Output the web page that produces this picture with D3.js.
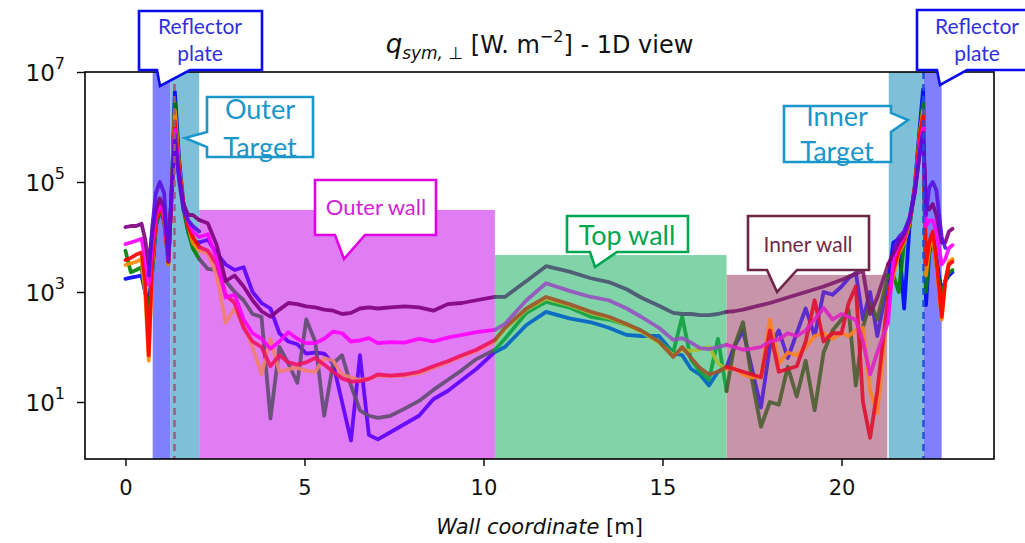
<!DOCTYPE html>
<html><head><meta charset="utf-8">
<script src="https://cdn.jsdelivr.net/npm/d3@7"></script>
<style>body{margin:0;background:#fff}svg{display:block}</style>
</head><body>
<svg id="chart" width="1025" height="543"></svg>
<script>
// ---------- DATA ----------
// Wall coordinate grid [m]
const wallCoord = [
  0, 0.15, 0.3, 0.45, 0.55, 0.65, 0.75, 0.85, 0.96, 1.08, 1.2, 1.3, 1.38, 1.5, 1.62, 1.75, 1.88, 2.06,
  2.3, 2.55, 2.8, 3.05, 3.3, 3.55, 3.8, 4.05, 4.3, 4.55, 4.8, 5.05, 5.3, 5.55, 5.8, 6.05, 6.3, 6.55, 6.8, 7.05, 7.4, 7.8, 8.2, 8.6, 9.0, 9.4, 9.8, 10.32,
  10.6, 11.2, 11.75, 12.4, 13.0, 13.5, 14.0, 14.4, 14.9, 15.3, 15.55, 15.8, 16.05, 16.3, 16.55, 16.79,
  17.0, 17.25, 17.5, 17.75, 18.0, 18.25, 18.5, 18.75, 19.0, 19.25, 19.5, 19.75, 20.0, 20.2, 20.4, 20.6, 20.8, 21.0, 21.3,
  21.45, 21.6, 21.75, 21.9, 22.05, 22.2, 22.28, 22.36, 22.45, 22.55, 22.65, 22.8, 22.9, 23.0, 23.1
];
// Segment limits along the wall [m]
const segmentLimits = [2.06, 10.32, 16.79, 21.3];

// log10 of q_sym,perp [W/m^2] for each case, on the wallCoord grid
const caseA_log10q = [
  4.18, 4.2, 4.2, 4.24, 3.96, 3.49, 4.1, 4.5, 4.7, 4.55, 3.7, 4.9, 5.75, 5.1, 4.6, 4.4, 4.4, 4.31,
  4.25, 3.85, 3.2, 3.3, 3.1, 2.85, 2.65, 2.55, 2.68, 2.8, 2.78, 2.74, 2.72, 2.68, 2.66, 2.6, 2.62, 2.7, 2.72, 2.7, 2.72, 2.74, 2.72, 2.66, 2.78, 2.8, 2.85, 2.91,
  2.91, 3.2, 3.47, 3.37, 3.25, 3.18, 3.05, 2.9, 2.75, 2.62, 2.6, 2.6, 2.58, 2.58, 2.6, 2.64,
  2.65, 2.68, 2.72, 2.76, 2.8, 2.85, 2.9, 2.95, 3.0, 3.05, 3.1, 3.16, 3.22, 3.28, 3.33, 3.38, 2.6, 2.9, 3.5,
  3.7, 3.9, 4.05, 4.3, 4.8, 5.6, 5.9, 4.6, 4.5, 4.6, 4.4, 3.9, 3.9, 4.1, 4.15
];
const caseB_log10q = [
  3.87, 3.9, 3.93, 3.97, 3.6, 3.13, 3.9, 4.4, 4.6, 4.4, 3.6, 4.9, 5.95, 5.1, 4.6, 4.3, 4.1, 4.0,
  4.05, 3.6, 2.9, 2.95, 2.5, 2.25, 2.15, 1.97, 2.1, 2.27, 2.15, 2.07, 2.07, 2.15, 2.28, 2.25, 2.1, 2.12, 2.16, 2.07, 2.09, 2.08, 2.15, 2.1, 2.17, 2.22, 2.27, 2.31,
  2.42, 2.85, 3.16, 3.02, 2.91, 2.85, 2.7, 2.55, 2.35, 2.13, 2.16, 2.08, 1.98, 1.96, 2.0, 2.04,
  2.0, 1.95, 1.97, 2.0, 2.1, 2.14, 2.25, 2.2, 2.3, 2.5, 2.71, 2.5, 2.6, 2.55, 2.49, 2.1, 1.5, 1.9, 2.45,
  3.6, 3.85, 4.0, 4.3, 4.85, 5.7, 6.0, 4.2, 4.3, 4.3, 4.1, 3.5, 3.6, 3.8, 3.85
];
const caseC_log10q = [
  3.58, 3.62, 3.68, 3.72, 3.2, 1.85, 3.6, 4.3, 4.55, 4.35, 3.55, 4.9, 6.1, 5.2, 4.6, 4.2, 4.0, 3.82,
  3.75, 3.5, 2.95, 2.8, 2.35, 2.1, 2.0, 1.65, 1.85, 1.72, 1.68, 1.72, 1.8, 1.68, 1.55, 1.43, 1.37, 1.38, 1.42, 1.5, 1.48, 1.5, 1.55, 1.65, 1.74, 1.85, 1.95, 2.13,
  2.35, 2.7, 2.91, 2.78, 2.64, 2.55, 2.42, 2.3, 2.1, 1.82, 2.0, 1.8, 1.62, 1.5, 1.55, 1.64,
  1.6, 1.55, 1.5, 1.45, 2.3, 1.55, 1.6, 1.65, 2.1, 2.85, 2.1, 2.25, 2.25, 2.8, 3.1, 1.0, 0.35, 1.2, 2.9,
  3.4, 3.75, 3.95, 4.3, 4.9, 5.9, 6.2, 3.5, 3.9, 4.1, 3.6, 2.55, 3.2, 3.5, 3.55
];
const caseD_log10q = [
  3.75, 3.36, 3.4, 3.45, 3.0, 2.6, 3.4, 4.2, 4.5, 4.3, 3.5, 5.0, 6.45, 5.3, 4.5, 4.1, 3.8, 3.6,
  3.42, 3.4, 3.2, 3.0, 2.85, 2.6, 2.55, 0.7, 2.0, 1.7, 1.35, 2.5, 2.1, 0.75, 1.7, 1.85, 1.3, 0.85, 0.75, 0.71, 0.75, 0.88, 1.02, 1.22, 1.4, 1.58, 1.78, 1.95,
  2.15, 2.62, 2.82, 2.72, 2.55, 2.5, 2.4, 2.3, 2.1, 1.9, 2.55, 1.76, 1.55, 1.4, 2.15, 1.2,
  2.0, 2.45, 1.4, 0.55, 1.0, 0.95, 1.64, 1.1, 1.75, 0.85, 1.9, 2.3, 2.5, 2.67, 1.3, 2.36, 2.8, 2.5, 3.3,
  3.3, 3.0, 3.9, 4.2, 4.9, 6.0, 6.45, 3.0, 3.7, 4.0, 3.5, 2.9, 3.2, 3.35, 3.4
];
const caseE_log10q = [
  3.24, 3.26, 3.28, 3.3, 3.0, 2.8, 3.4, 4.2, 4.5, 4.3, 3.55, 5.0, 6.64, 5.4, 4.6, 4.1, 3.9, 3.9,
  3.95, 3.7, 3.5, 3.4, 3.45, 3.0, 2.8, 2.7, 2.25, 2.1, 2.05, 1.88, 1.9, 1.88, 1.7, 1.0, 0.3, 1.85, 0.4, 0.32, 0.45, 0.6, 0.75, 1.05, 1.2, 1.4, 1.6, 1.91,
  2.0, 2.4, 2.64, 2.52, 2.45, 2.35, 2.22, 2.2, 2.2, 1.89, 1.85, 1.6, 1.5, 1.3, 1.55, 1.64,
  2.0, 2.3, 1.6, 0.9, 2.0, 2.3, 1.8, 2.25, 2.7, 2.2, 3.0, 2.95, 3.1, 3.25, 3.35, 2.5, 3.0, 2.2, 3.2,
  3.9, 3.96, 2.7, 4.2, 4.95, 6.1, 6.69, 2.76, 3.7, 4.0, 3.6, 3.0, 3.2, 3.3, 3.36
];
const caseF_log10q = [
  3.49, 3.52, 3.55, 3.6, 3.0, 1.75, 3.5, 4.3, 4.55, 4.35, 3.5, 4.9, 6.3, 5.25, 4.6, 4.2, 3.9, 3.75,
  3.7, 3.3, 2.44, 2.7, 2.4, 2.0, 1.5, 2.15, 1.55, 1.6, 1.62, 1.57, 1.55, 1.8, 1.75, 1.5, 1.45, 1.4, 1.42, 1.48, 1.47, 1.48, 1.52, 1.62, 1.72, 1.83, 1.93, 2.1,
  2.33, 2.68, 2.88, 2.76, 2.62, 2.53, 2.4, 2.28, 2.08, 1.85, 1.95, 1.93, 1.96, 2.0, 1.7, 1.6,
  1.62, 1.5, 1.45, 1.45, 2.5, 1.7, 1.9, 1.85, 2.0, 2.2, 2.25, 2.15, 2.25, 2.2, 2.3, 2.35, 1.2, 0.8, 2.8,
  3.3, 3.7, 3.9, 4.25, 4.9, 5.95, 6.3, 3.3, 3.8, 4.0, 3.5, 2.5, 3.2, 3.55, 3.6
];
// extra case only present near the targets
const caseG_coord = [0.65, 0.75, 0.85, 0.96, 1.08, 1.2, 1.3, 1.38, 1.5, 1.62, 1.75, 1.88, 2.06,
                     21.45, 21.6, 21.75, 21.9, 22.05, 22.2, 22.28, 22.36, 22.45, 22.55, 22.65, 22.8, 22.9];
const caseG_log10q = [3.3, 4.2, 4.8, 5.0, 4.8, 3.55, 5.0, 5.85, 5.0, 4.5, 4.3, 4.2, 4.1,
                      3.8, 4.0, 4.1, 4.35, 4.85, 5.6, 5.85, 4.4, 4.9, 5.0, 4.85, 4.0, 3.8];

// colours per wall segment (left target zone, outer wall, top wall, inner wall, right target zone)
const caseColors = {
  E: ["#0000ff", "#5a00ff", "#0062c4", "#5020d0", "#0000ff"],
  D: ["#008000", "#5f4d6f", "#10a040", "#4b5e30", "#008000"],
  F: ["#ff8c00", "#f0806e", "#a8c030", "#ff8020", "#ff8c00"],
  C: ["#ff0000", "#ee1460", "#a0522d", "#e0102e", "#ff0000"],
  B: ["#ff00ff", "#ff00ff", "#9650c0", "#df22c4", "#ff00ff"],
  A: ["#800080", "#800080", "#4b5270", "#7d1c6a", "#800080"]
};
const caseGColor = "#5a10e0";

// wall regions
const regionNames = ["Reflector plate", "Outer target", "Outer wall", "Top wall", "Inner wall", "Inner target", "Reflector plate"];
const regionStart = [0.76, 1.26, 2.06, 10.32, 16.79, 21.32, 22.3];
const regionEnd   = [1.26, 2.06, 10.32, 16.79, 21.28, 22.3, 22.8];
const regionTop   = [1e7, 1e7, 3.1e4, 4.7e3, 2.05e3, 1e7, 1e7];
const regionColors = ["#8080ff", "#7fc0d8", "#e07df5", "#80d4a8", "#c794aa", "#7fc0d8", "#8080ff"];

// strike-point markers
const strikePoints = [1.37, 22.29];
const strikeColors = ["#9a5a78", "#1f4fe0"];

const xTicks = [0, 5, 10, 15, 20];
const yTicks = [1e1, 1e3, 1e5, 1e7];
const yTickExp = ["1", "3", "5", "7"];

// ---------- DRAWING ----------
const svg = d3.select("#chart");
const L = 85, R = 994, T = 72, B = 459;
const x = d3.scaleLinear().domain([-1.13, 24.26]).range([L, R]);
const y = d3.scaleLog().domain([0.92, 1e7]).range([B, T]);

// regions
svg.append("g").selectAll("rect").data(regionNames).join("rect")
  .attr("x", (d, i) => x(regionStart[i]))
  .attr("width", (d, i) => x(regionEnd[i]) - x(regionStart[i]))
  .attr("y", (d, i) => y(regionTop[i]))
  .attr("height", (d, i) => B - y(regionTop[i]))
  .attr("fill", (d, i) => regionColors[i]);

// lines
const line = d3.line().x(d => x(d[0])).y(d => y(Math.pow(10, d[1])));
const bounds = [-Infinity, ...segmentLimits, Infinity];
const cases = [
  ["E", caseE_log10q], ["D", caseD_log10q], ["F", caseF_log10q],
  ["C", caseC_log10q], ["B", caseB_log10q], ["A", caseA_log10q]
];
const gl = svg.append("g").attr("fill", "none").attr("stroke-width", 3.8)
  .attr("stroke-linejoin", "round").attr("stroke-linecap", "round");
cases.forEach(([key, vals]) => {
  for (let k = 0; k < 5; k++) {
    const pts = wallCoord.map((w, i) => [w, vals[i]])
      .filter(p => p[0] >= bounds[k] - 1e-9 && p[0] <= bounds[k + 1] + 1e-9);
    gl.append("path").attr("d", line(pts)).attr("stroke", caseColors[key][k]).attr("opacity", 0.9);
  }
});
// case G in two pieces
[[0, 13], [13, caseG_coord.length]].forEach(([a, b]) => {
  const pts = caseG_coord.slice(a, b).map((w, i) => [w, caseG_log10q[a + i]]);
  gl.append("path").attr("d", line(pts)).attr("stroke", caseGColor).attr("opacity", 0.9);
});

// strike point dashed lines
svg.append("g").selectAll("line").data(strikePoints).join("line")
  .attr("x1", d => x(d)).attr("x2", d => x(d)).attr("y1", T).attr("y2", B)
  .attr("stroke", (d, i) => strikeColors[i]).attr("stroke-width", 2.4)
  .attr("stroke-dasharray", "7,5");

// frame
svg.append("rect").attr("x", L).attr("y", T).attr("width", R - L).attr("height", B - T)
  .attr("fill", "none").attr("stroke", "#000").attr("stroke-width", 1.6);

// axes
const font = "DejaVu Sans, sans-serif";
const xa = svg.append("g").attr("transform", `translate(0,${B})`)
  .call(d3.axisBottom(x).tickValues(xTicks).tickSize(7).tickPadding(14).tickFormat(d3.format("d")));
xa.select(".domain").remove();
xa.selectAll("line").attr("stroke", "#000").attr("stroke-width", 1.4);
xa.selectAll("text").attr("font-family", font).attr("font-size", 21).attr("fill", "#111");

const ya = svg.append("g").attr("transform", `translate(${L},0)`)
  .call(d3.axisLeft(y).tickValues(yTicks).tickSize(8).tickFormat(() => ""));
ya.select(".domain").remove();
ya.selectAll("line").attr("stroke", "#000").attr("stroke-width", 1.4);
const yl = svg.append("g").selectAll("text").data(yTicks).join("text")
  .attr("x", 65).attr("y", d => y(d) + 9).attr("text-anchor", "end")
  .attr("font-family", font).attr("font-size", 23).attr("fill", "#111");
yl.append("tspan").text("10");
yl.append("tspan").attr("dy", -12).attr("font-size", 16).text((d, i) => yTickExp[i]);

// axis label
const xl = svg.append("text").attr("x", (L + R) / 2).attr("y", 534).attr("text-anchor", "middle")
  .attr("font-family", font).attr("font-size", 21).attr("fill", "#111");
xl.append("tspan").attr("font-style", "italic").text("Wall coordinate");
xl.append("tspan").text(" [m]");

// title
const tt = svg.append("text").attr("x", (L + R) / 2).attr("y", 53).attr("text-anchor", "middle")
  .attr("font-family", font).attr("font-size", 24).attr("fill", "#111");
tt.append("tspan").attr("font-style", "italic").attr("font-size", 26).text("q");
tt.append("tspan").attr("font-style", "italic").attr("font-size", 17).attr("dy", 6).text("sym, \u22A5");
tt.append("tspan").attr("dy", -6).text(" [W. m");
tt.append("tspan").attr("font-size", 16).attr("dy", -11).text("\u22122");
tt.append("tspan").attr("dy", 11).text("] - 1D view");

// callouts
function calloutPath(c) {
  const [x0, y0, x1, y1] = c.box, [a, b] = c.base, [tx, ty] = c.tip;
  if (c.side === "bottom") return `M${x0},${y0}H${x1}V${y1}H${b}L${tx},${ty}L${a},${y1}H${x0}Z`;
  if (c.side === "left") return `M${x0},${y0}H${x1}V${y1}H${x0}V${b}L${tx},${ty}L${x0},${a}Z`;
  return `M${x0},${y0}H${x1}V${a}L${tx},${ty}L${x1},${b}V${y1}H${x0}Z`;
}
const callouts = [
  {box: [139, 11, 262, 70], side: "bottom", base: [157, 190], tip: [160, 86], stroke: "#0a0aee", fill: "#3030e0",
   lines: ["Reflector", "plate"], tx: 200, ty: [34, 61], size: 21},
  {box: [207, 97, 313, 157], side: "left", base: [132, 147], tip: [185, 138], stroke: "#1a96c8", fill: "#1a96c8",
   lines: ["Outer", "Target"], tx: 260, ty: [119, 157], size: 27},
  {box: [917, 10, 1040, 70], side: "bottom", base: [937, 967], tip: [940, 85], stroke: "#0a0aee", fill: "#3030e0",
   lines: ["Reflector", "plate"], tx: 977, ty: [34, 61], size: 21},
  {box: [784, 106, 891, 162], side: "right", base: [113, 132], tip: [908, 120], stroke: "#1a96c8", fill: "#1a96c8",
   lines: ["Inner", "Target"], tx: 837, ty: [126, 161], size: 27},
  {box: [315, 180, 436, 235], side: "bottom", base: [335, 365], tip: [344, 259], stroke: "#e000e6", fill: "#d41ed8",
   lines: ["Outer wall"], tx: 376, ty: [215], size: 22},
  {box: [567, 216, 688, 252], side: "bottom", base: [590, 617], tip: [595, 267], stroke: "#00a650", fill: "#00a650",
   lines: ["Top wall"], tx: 627, ty: [245], size: 27},
  {box: [748, 216, 869, 270], side: "bottom", base: [767, 797], tip: [777, 292], stroke: "#6d2546", fill: "#6e2a4c",
   lines: ["Inner wall"], tx: 808, ty: [252], size: 21}
];
const gc = svg.append("g");
callouts.forEach(c => {
  gc.append("path").attr("d", calloutPath(c)).attr("fill", "#fff")
    .attr("stroke", c.stroke).attr("stroke-width", 2.6).attr("stroke-linejoin", "miter");
  c.lines.forEach((t, i) => {
    gc.append("text").attr("x", c.tx).attr("y", c.ty[i]).attr("text-anchor", "middle")
      .attr("font-family", "Lato, 'Open Sans', sans-serif").attr("font-size", c.size)
      .attr("fill", c.fill).text(t);
  });
});
</script>
</body></html>
